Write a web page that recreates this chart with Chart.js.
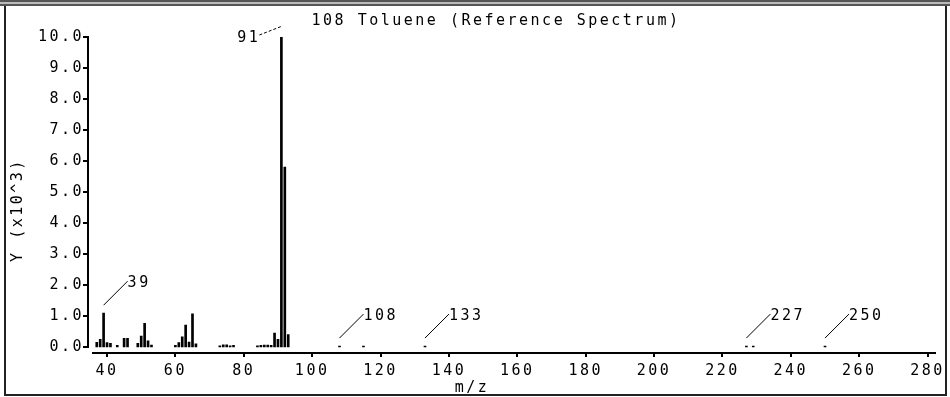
<!DOCTYPE html>
<html>
<head>
<meta charset="utf-8">
<script src="https://cdn.jsdelivr.net/npm/chart.js@4.4.1/dist/chart.umd.min.js"></script>
<style>
  html, body { margin: 0; padding: 0; background: #fff; }
  #wrap { position: relative; width: 950px; height: 397px; overflow: hidden; }
  #spectrum { position: absolute; left: 0; top: 0; }
  .topbar {
    position: absolute; left: 0; top: 0; width: 950px; height: 7px;
    background: linear-gradient(#555 0 2px, #bbb 2px 4px, #555 4px 6px, #fff 6px);
  }
  .frame {
    position: absolute; left: 4px; top: 6px; width: 943px; height: 390px;
    border: 2px solid #222; border-top: none; box-sizing: border-box;
  }
</style>
</head>
<body>
<div id="wrap">
  <canvas id="spectrum" width="950" height="397"></canvas>
  <div class="topbar"></div>
  <div class="frame"></div>
</div>
<script>
// m/z of each peak and its abundance (x10^3)
const massToCharge = [37, 38, 39, 40, 41, 43, 45, 46, 49, 50, 51, 52, 53,
  60, 61, 62, 63, 64, 65, 66, 73, 74, 75, 76, 77,
  84, 85, 86, 87, 88, 89, 90, 91, 92, 93,
  108, 115, 133, 227, 229, 250];
const abundance = [0.15, 0.25, 1.09, 0.14, 0.12, 0.05, 0.28, 0.28, 0.12, 0.35, 0.76, 0.2, 0.06,
  0.05, 0.14, 0.33, 0.71, 0.16, 1.07, 0.1, 0.04, 0.07, 0.07, 0.04, 0.05,
  0.04, 0.05, 0.06, 0.06, 0.05, 0.45, 0.25, 10.0, 5.8, 0.4,
  0.03, 0.03, 0.03, 0.03, 0.03, 0.03];

// peaks that get a number next to them; the base peak is labelled on its left
const labelledPeaks = [91, 39, 108, 133, 227, 250];
const basePeak = 91;

const xTicks = [40, 60, 80, 100, 120, 140, 160, 180, 200, 220, 240, 260, 280];
const yTicks = [0, 1, 2, 3, 4, 5, 6, 7, 8, 9, 10];

const chartTitle = '108 Toluene (Reference Spectrum)';
const xTitle = 'm/z';
const yTitle = 'Y (x10^3)';

const FONT = "'DejaVu Sans Mono', monospace";
const SPACING = '2.5px';

// wide monospaced lettering for every piece of text on the canvas
const letterSpacing = {
  id: 'letterSpacing',
  beforeUpdate(chart) { chart.ctx.letterSpacing = SPACING; },
  beforeDraw(chart) { chart.ctx.letterSpacing = SPACING; }
};

// y axis sits a little left of the plot and stops at zero
const detachedYAxis = {
  id: 'detachedYAxis',
  afterDraw(chart) {
    const { ctx, scales: { y } } = chart;
    const ax = chart.chartArea.left - 5;
    ctx.save();
    ctx.strokeStyle = '#000';
    ctx.lineWidth = 2;
    ctx.beginPath();
    ctx.moveTo(ax, y.getPixelForValue(yTicks[yTicks.length - 1]) - 1);
    ctx.lineTo(ax, y.getPixelForValue(yTicks[0]) + 1);
    yTicks.forEach(v => {
      const py = Math.round(y.getPixelForValue(v));
      ctx.moveTo(ax - 5, py);
      ctx.lineTo(ax, py);
    });
    ctx.stroke();
    ctx.restore();
  }
};

const peakLabels = {
  id: 'peakLabels',
  afterDatasetsDraw(chart) {
    const { ctx, scales: { x, y } } = chart;
    ctx.save();
    ctx.font = `15px ${FONT}`;
    ctx.letterSpacing = SPACING;
    ctx.fillStyle = '#000';
    ctx.strokeStyle = '#000';
    ctx.lineWidth = 1;
    ctx.textBaseline = 'middle';
    labelledPeaks.forEach(mz => {
      const px = x.getPixelForValue(mz);
      const py = y.getPixelForValue(abundance[massToCharge.indexOf(mz)]);
      ctx.beginPath();
      if (mz === basePeak) {
        ctx.setLineDash([3, 2]);
        ctx.moveTo(px - 22, py - 2);
        ctx.lineTo(px + 1, py - 11);
        ctx.stroke();
        ctx.textAlign = 'right';
        ctx.fillText(String(mz), px - 21, py + 1);
      } else {
        ctx.setLineDash([]);
        ctx.moveTo(px, py - 8);
        ctx.lineTo(px + 24, py - 32);
        ctx.stroke();
        ctx.textAlign = 'left';
        ctx.fillText(String(mz), px + 24, py - 30);
      }
    });

    // chart and axis titles
    ctx.textAlign = 'center';
    ctx.fillText(chartTitle, 496, 21);
    ctx.fillText(xTitle, 472, 388);
    ctx.translate(18, 210);
    ctx.rotate(-Math.PI / 2);
    ctx.fillText(yTitle, 0, 0);
    ctx.restore();
  }
};

new Chart(document.getElementById('spectrum'), {
  type: 'bar',
  data: {
    datasets: [{
      data: massToCharge.map((mz, i) => ({ x: mz, y: abundance[i] })),
      backgroundColor: '#000',
      borderWidth: 0,
      barThickness: 2
    }]
  },
  options: {
    responsive: false,
    animation: false,
    events: [],
    layout: { padding: { left: 0, top: 37, right: 12, bottom: 0 } },
    plugins: {
      legend: { display: false },
      tooltip: { enabled: false },
      title: { display: false }
    },
    scales: {
      x: {
        type: 'linear',
        offset: false,
        min: 35.9,
        max: 282.3,
        afterBuildTicks: s => { s.ticks = xTicks.map(v => ({ value: v })); },
        afterFit: s => { s.height = 44; },
        border: { display: true, color: '#000', width: 2 },
        grid: {
          offset: false,
          drawOnChartArea: false, drawTicks: true, tickLength: 4,
          color: '#000', lineWidth: 2
        },
        ticks: {
          color: '#000', padding: 5, maxRotation: 0, autoSkip: false,
          font: { family: FONT, size: 15 },
          callback: v => String(v)
        }
      },
      y: {
        min: -0.194,
        max: 10,
        afterBuildTicks: s => { s.ticks = yTicks.map(v => ({ value: v })); },
        afterFit: s => { s.width = 93; },
        border: { display: false },
        grid: { display: false, drawTicks: false },
        ticks: {
          color: '#000', padding: 9, autoSkip: false,
          font: { family: FONT, size: 15 },
          callback: v => v.toFixed(1)
        }
      }
    }
  },
  plugins: [letterSpacing, detachedYAxis, peakLabels]
});
</script>
</body>
</html>
